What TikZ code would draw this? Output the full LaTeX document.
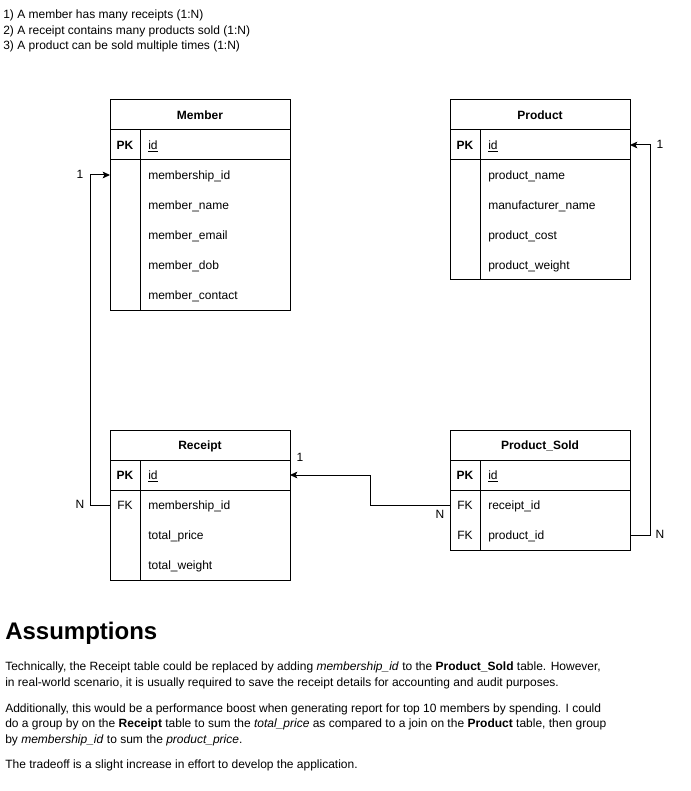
\documentclass[tikz,border=0pt]{standalone}
\usepackage{fontspec}
\setmainfont{Liberation Sans}
\usetikzlibrary{arrows.meta}

\newcommand{\fs}{\fontsize{9}{11}\selectfont}
% one table row: name, x, y, key column text, field text
\newcommand{\erow}[5]{%
  \node[rowbox] (#1) at (#2,#3) {};
  \node[keytxt] (#1-k) at ([xshift=11.25pt, yshift=-0.75pt]#1.west) {#4};
  \node[fieldtxt] (#1-f) at ([xshift=28.5pt, yshift=-0.75pt]#1.west) {#5};
}
% table header: name, x, y, title
\newcommand{\ehead}[4]{%
  \node[rowbox] (#1) at (#2,#3) {};
  \node[font=\bfseries\fs, inner sep=0pt, text height=6.5pt, text depth=1.8pt] (#1-t) at ([yshift=-0.75pt]#1.center) {#4};
}
% outline, separators and key column divider: header, pk row, last row
\newcommand{\eframe}[3]{%
  \draw[tab] (#1.north west) rectangle (#3.south east);
  \draw[tab] (#1.south west) -- (#1.south east);
  \draw[tab] (#2.south west) -- (#2.south east);
  \draw[tab] ([xshift=22.5pt]#2.north west) -- ([xshift=22.5pt]#3.south west);
}

\begin{document}
\begin{tikzpicture}[x=0.75pt, y=-0.75pt,
  tab/.style={draw=black, line width=0.75pt},
  rowbox/.style={anchor=north west, minimum width=135pt, minimum height=22.5pt, inner sep=0pt, outer sep=0pt},
  keytxt/.style={font=\fs, anchor=center, inner sep=0pt, text height=6.5pt, text depth=1.8pt},
  fieldtxt/.style={font=\fs, anchor=west, inner sep=0pt, text height=6.5pt, text depth=1.8pt},
  card/.style={font=\fs, inner sep=0pt, text height=6.5pt, text depth=1.8pt},
  txt/.style={font=\fs, anchor=base west, inner sep=0pt},
  rel/.style={draw=black, line width=0.75pt, -{Stealth[length=5.5pt, width=5pt, inset=1.2pt]}}]

\useasboundingbox[fill=white] (0,0) rectangle (691,791);

% notes on the relationships
\node[txt] (n1) at (3,19) {1) A member has many receipts (1:N)};
\node[txt] (n2) at (3,34.5) {2) A receipt contains many products sold (1:N)};
\node[txt] (n3) at (3,50) {3) A product can be sold multiple times (1:N)};

% Member
\ehead{m-h}{110}{100}{Member}
\erow{m-pk}{110}{130}{\textbf{PK}}{\underline{id}}
\erow{m-r1}{110}{160}{}{membership\_id}
\erow{m-r2}{110}{190}{}{member\_name}
\erow{m-r3}{110}{220}{}{member\_email}
\erow{m-r4}{110}{250}{}{member\_dob}
\erow{m-r5}{110}{280}{}{member\_contact}
\eframe{m-h}{m-pk}{m-r5}

% Product
\ehead{p-h}{450}{100}{Product}
\erow{p-pk}{450}{130}{\textbf{PK}}{\underline{id}}
\erow{p-r1}{450}{160}{}{product\_name}
\erow{p-r2}{450}{190}{}{manufacturer\_name}
\erow{p-r3}{450}{220}{}{product\_cost}
\erow{p-r4}{450}{250}{}{product\_weight}
\eframe{p-h}{p-pk}{p-r4}

% Receipt
\ehead{r-h}{110}{430}{Receipt}
\erow{r-pk}{110}{460}{\textbf{PK}}{\underline{id}}
\erow{r-r1}{110}{490}{FK}{membership\_id}
\erow{r-r2}{110}{520}{}{total\_price}
\erow{r-r3}{110}{550}{}{total\_weight}
\eframe{r-h}{r-pk}{r-r3}

% Product_Sold
\ehead{s-h}{450}{430}{Product\_Sold}
\erow{s-pk}{450}{460}{\textbf{PK}}{\underline{id}}
\erow{s-r1}{450}{490}{FK}{receipt\_id}
\erow{s-r2}{450}{520}{FK}{product\_id}
\eframe{s-h}{s-pk}{s-r2}

% relationships
\draw[rel] (r-r1.west) -- ++(-20,0) |- (m-r1.west);
\draw[rel] (s-r1.west) -- ++(-80,0) |- (r-pk.east);
\draw[rel] (s-r2.east) -- ++(20,0) |- (p-pk.east);

% cardinalities
\node[card] (c1) at (80,175) {1};
\node[card] (c2) at (80,505) {N};
\node[card] (c3) at (300,458) {1};
\node[card] (c4) at (440,515) {N};
\node[card] (c5) at (660,535) {N};
\node[card] (c6) at (660,145) {1};

% assumptions
\node[anchor=base west, inner sep=0pt, font=\bfseries\fontsize{18}{20}\selectfont] (a0) at (5,639) {Assumptions};
\node[txt] (a1) at (5,670) {Technically, the Receipt table could be replaced by adding \textit{membership\_id} to the \textbf{Product\_Sold} table. However,};
\node[txt] (a2) at (5,686) {in real-world scenario, it is usually required to save the receipt details for accounting and audit purposes.};
\node[txt] (a3) at (5,712) {Additionally, this would be a performance boost when generating report for top 10 members by spending. I could};
\node[txt] (a4) at (5,727.5) {do a group by on the \textbf{Receipt} table to sum the \textit{total\_price} as compared to a join on the \textbf{Product} table, then group};
\node[txt] (a5) at (5,743) {by \textit{membership\_id} to sum the \textit{product\_price}.};
\node[txt] (a6) at (5,768) {The tradeoff is a slight increase in effort to develop the application.};
\end{tikzpicture}
\end{document}
